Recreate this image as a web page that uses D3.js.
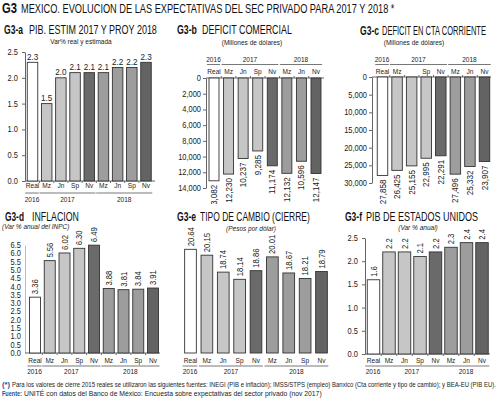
<!DOCTYPE html>
<html><head><meta charset="utf-8">
<script src="https://cdnjs.cloudflare.com/ajax/libs/d3/7.8.5/d3.min.js"></script>
<style>
body{margin:0;background:#fff}
svg{display:block;font-family:"Liberation Sans",Arial,Helvetica,sans-serif}
</style></head><body>
<svg id="chart" width="500" height="399"></svg>
<script>
// categories
const cats9 = ["Real","Mz","Jn","Sp","Nv","Mz","Jn","Sp","Nv"];
const grp9  = ["2016","2017","2017","2017","2017","2018","2018","2018","2018"];
const cats8 = ["Real","Mz","Jn","Sp","Nv","Mz","Jn","Nv"];
const grp8  = ["2016","2017","2017","2017","2017","2018","2018","2018"];
const catsCta = ["Real","Mz","","Sp","Nv","Mz","Jn","Nv"]; // Jn 2017 label missing in the source
const years = ["2016","2017","2018"];

// series
const pibMx       = [2.3,1.5,2.0,2.1,2.1,2.1,2.2,2.2,2.3];
const deficitCom  = [13082,12230,10237,9285,11174,12132,10596,12147];
const ctaCorriente= [27858,26425,25155,22995,22291,27496,25332,23907];
const inflacion   = [3.36,5.56,6.02,6.30,6.49,3.88,3.81,3.84,3.91];
const tipoCambio  = [20.64,20.15,18.74,18.14,18.86,20.01,18.67,18.21,18.79];
const pibEU       = [1.6,2.2,2.2,2.1,2.2,2.3,2.4,2.4];

// tick labels
const ticksPib  = [0,0.5,1,1.5,2,2.5];
const ticksCom  = [0,2000,4000,6000,8000,10000,12000,14000];
const ticksCta  = [0,5000,10000,15000,20000,25000,30000];
const ticksInf  = d3.range(0,6.51,0.5);

const svg = d3.select("#chart");
const ink = "#222";
const blue = "#1d4f9e";

// condensed text: Liberation Sans squeezed horizontally
function put(sel, x, y, str, o = {}) {
  return sel.append("text")
    .attr("transform", `translate(${x},${y})` + (o.rot ? ` rotate(${o.rot})` : "") + ` scale(${o.sx || 0.85},1)`)
    .attr("text-anchor", o.anchor || "start")
    .attr("fill", o.fill || ink)
    .style("font-size", (o.size || 8.5) + "px")
    .style("font-weight", o.bold ? "bold" : "normal")
    .style("font-style", o.italic ? "italic" : "normal")
    .text(str);
}
// text squeezed to a measured width
function fit(x, y, str, len, o = {}) {
  const t = put(svg, x, y, str, { ...o, sx: 1, fill: o.fill || "#111" });
  const w = t.node().getComputedTextLength();
  t.attr("transform", `translate(${x},${y}) scale(${len / w},1)`);
  return t;
}

function fillFor(cat, grp) {
  if (grp === "2016") return "#ffffff";
  if (cat === "Nv") return grp === "2017" ? "#6a6a6a" : "#636363";
  return grp === "2017" ? "#c6c6c6" : "#9d9d9d";
}

function band(n, c0, c1, bw) {
  const step = (c1 - c0) / (n - 1);
  const pi = 1 - bw / step;
  return d3.scaleBand().domain(d3.range(n))
    .range([c0 - step/2, c1 + step/2]).paddingInner(pi).paddingOuter(pi/2);
}

// clip for the top row (rotated labels run out of the panel)
svg.append("defs").append("clipPath").attr("id","topclip")
  .append("rect").attr("x",0).attr("y",0).attr("width",500).attr("height",204);

function drawPanel(p) {
  const g = svg.append("g");
  const inner = p.clip ? g.append("g").attr("clip-path","url(#topclip)") : g;
  const x = band(p.vals.length, p.c0, p.c1, p.bw);
  const cx = i => x(i) + x.bandwidth()/2 + 0.5;
  const base = p.y(p.y.domain()[0]);

  // axis
  if (p.ticks) {
    const ax = d3.axisLeft(p.y).tickValues(p.ticks).tickSize(p.tickSize)
      .tickSizeOuter(0).tickPadding(p.tickPad).tickFormat(p.tickFmt);
    const a = g.append("g").attr("transform", `translate(${p.axisX},0)`).call(ax);
    a.select(".domain").attr("stroke", p.axisColor || "#666");
    a.selectAll(".tick line").attr("stroke", p.axisColor || "#666");
    a.selectAll(".tick text").remove();
    p.ticks.forEach(t => put(g, p.axisX - p.tickSize - p.tickPad, p.y(t) + 3, p.tickFmt(t),
      { anchor: "end", size: 8.5, sx: 0.88 }));
  }
  // base line
  if (p.baseLine) {
    g.append("line").attr("x1", p.baseLine[0]).attr("x2", p.baseLine[1])
      .attr("y1", base).attr("y2", base).attr("stroke", "#666");
    g.selectAll(".bt").data(d3.range(p.vals.length - 1)).join("line")
      .attr("x1", i => (x(i) + x.bandwidth() + x(i+1)) / 2 + 0.5)
      .attr("x2", i => (x(i) + x.bandwidth() + x(i+1)) / 2 + 0.5)
      .attr("y1", base).attr("y2", base + (p.down ? -2 : 2)).attr("stroke", "#666");
  }

  // bars
  g.selectAll(".bar").data(p.vals).join("rect")
    .attr("x", (d,i) => x(i) + 0.5)
    .attr("width", x.bandwidth())
    .attr("y", d => p.down ? base : p.y(d))
    .attr("height", d => Math.abs(p.y(d) - base))
    .attr("fill", (d,i) => fillFor(p.cats[i], p.grps[i]))
    .attr("stroke", "#333").attr("stroke-width", 0.9);

  // value labels
  p.vals.forEach((d,i) => {
    if (p.labelMode === "h") put(inner, cx(i), p.y(d) - 2.5, p.fmt(d), { anchor: "middle", size: 9, sx: 0.9 });
    else if (p.labelMode === "up") put(inner, cx(i) + 3, p.y(d) - 3, p.fmt(d), { rot: -90, size: 9, sx: 0.85 });
    else put(inner, cx(i) + 3, p.y(d) + 4, p.fmt(d), { rot: -90, anchor: "end", size: 9, sx: 0.9 });
  });

  // category labels
  p.labels.forEach((d,i) => put(g, cx(i), p.catY, d, { anchor: "middle", size: 8, sx: 0.82 }));

  // year groups
  years.forEach(yr => {
    const idx = d3.range(p.vals.length).filter(i => p.grps[i] === yr);
    const x0 = x(idx[0]) - 1.5, x1 = x(idx[idx.length-1]) + x.bandwidth() + 1.5;
    g.append("line").attr("x1", x0).attr("x2", x1).attr("y1", p.lineY).attr("y2", p.lineY)
      .attr("stroke", "#555").attr("stroke-width", 0.8);
    put(g, (x0 + x1)/2, p.yearY, yr, { anchor: "middle", size: 8, sx: 0.82 });
  });
}

// titles
fit(2, 13, "G3", 15, { size: 14, bold: true });
fit(21, 13, "MEXICO. EVOLUCION DE LAS EXPECTATIVAS DEL SEC PRIVADO PARA 2017 Y 2018 *", 374, { size: 13.5 });
fit(4, 34, "G3-a", 19, { size: 12, bold: true });
fit(29, 34, "PIB. ESTIM 2017 Y PROY 2018", 128, { size: 12 });
fit(177, 34, "G3-b", 20, { size: 12, bold: true });
fit(202, 34, "DEFICIT COMERCIAL", 90, { size: 12 });
fit(360, 35, "G3-c", 19, { size: 12, bold: true });
fit(382, 35, "DEFICIT EN CTA CORRIENTE", 104, { size: 12 });
fit(5, 221, "G3-d", 19, { size: 12, bold: true });
fit(32, 221, "INFLACION", 47, { size: 12 });
fit(177, 221, "G3-e", 19, { size: 12, bold: true });
fit(200, 221, "TIPO DE CAMBIO (CIERRE)", 110, { size: 12 });
fit(345, 221, "G3-f", 17, { size: 12, bold: true });
fit(366, 221, "PIB DE ESTADOS UNIDOS", 112, { size: 12 });

put(svg, 81, 44, "Var% real y estimada", { anchor: "middle", size: 7.5, sx: 0.87 });
put(svg, 252, 45, "(Millones de dólares)", { anchor: "middle", size: 7.5, sx: 0.87 });
put(svg, 414, 45, "(Millones de dólares)", { anchor: "middle", size: 7.5, sx: 0.87 });
put(svg, 2, 229, "(Var % anual del INPC)", { size: 7.5, sx: 0.87, italic: true });
put(svg, 251, 231, "(Pesos por dólar)", { anchor: "middle", size: 7.5, sx: 0.87, italic: true });
put(svg, 418, 230, "(Var % anual)", { anchor: "middle", size: 7.5, sx: 0.87, italic: true });

const f1 = d3.format(".1f"), f2 = d3.format(".2f"), fc = d3.format(",");

drawPanel({ vals: pibMx, cats: cats9, labels: cats9, grps: grp9, c0: 32, c1: 145.5, bw: 10.5,
  y: d3.scaleLinear().domain([0, 2.5]).range([181, 52]), fmt: f1, labelMode: "h",
  ticks: ticksPib, tickFmt: f1, axisX: 25, tickSize: 3, tickPad: 4,
  baseLine: [25, 155], catY: 187.5, lineY: 193, yearY: 202 });

drawPanel({ vals: deficitCom, cats: cats8, labels: cats8, grps: grp8, c0: 213.5, c1: 315.5, bw: 10,
  y: d3.scaleLinear().domain([0, 14000]).range([78, 188]), fmt: fc, labelMode: "down", down: true, clip: true,
  ticks: ticksCom, tickFmt: fc, axisX: 206, tickSize: 3, tickPad: 2,
  baseLine: [206, 324], catY: 74, lineY: 64.5, yearY: 62 });

drawPanel({ vals: ctaCorriente, cats: cats8, labels: catsCta, grps: grp8, c0: 382, c1: 484, bw: 10.5,
  y: d3.scaleLinear().domain([0, 30000]).range([77, 183]), fmt: fc, labelMode: "down", down: true, clip: true,
  ticks: ticksCta, tickFmt: fc, axisX: 372, tickSize: 3, tickPad: 2,
  baseLine: [372, 491], catY: 74, lineY: 64.5, yearY: 62 });

drawPanel({ vals: inflacion, cats: cats9, labels: cats9, grps: grp9, c0: 34.5, c1: 152.5, bw: 11,
  y: d3.scaleLinear().domain([0, 6.5]).range([353, 245]), fmt: f2, labelMode: "up",
  ticks: ticksInf, tickFmt: f1, axisX: 25, tickSize: 0, tickPad: 4, axisColor: "#bbb",
  baseLine: [25, 160], catY: 362.5, lineY: 366, yearY: 374 });

drawPanel({ vals: tipoCambio, cats: cats9, labels: cats9, grps: grp9, c0: 190, c1: 321, bw: 11.7,
  y: d3.scaleLinear().domain([12, 21.5]).range([353, 239]), fmt: f2, labelMode: "up",
  catY: 362.5, lineY: 366, yearY: 374 });

drawPanel({ vals: pibEU, cats: cats8, labels: cats8, grps: grp8, c0: 373, c1: 481.5, bw: 12.5,
  y: d3.scaleLinear().domain([0, 2.5]).range([354, 238]), fmt: f1, labelMode: "up",
  ticks: ticksPib, tickFmt: f1, axisX: 365, tickSize: 3, tickPad: 4,
  baseLine: [365, 490], catY: 362.5, lineY: 366, yearY: 374 });

// footer
fit(2, 387, "(*)", 8, { size: 7.5, bold: true, fill: blue });
fit(12, 387, "Para los valores de cierre 2015 reales se utilizaron las siguientes fuentes: INEGI (PIB e inflación); IMSS/STPS (empleo) Banxico (Cta corriente y tipo de cambio); y BEA-EU (PIB EU).", 485, { size: 7.5, fill: ink });
fit(2, 396, "Fuente:", 20, { size: 7.5, bold: true, fill: blue });
fit(24, 396, "UNITÉ con datos del Banco de México: Encuesta sobre expectativas del sector privado (nov 2017)", 298, { size: 7.5, fill: ink });
</script>
</body></html>
